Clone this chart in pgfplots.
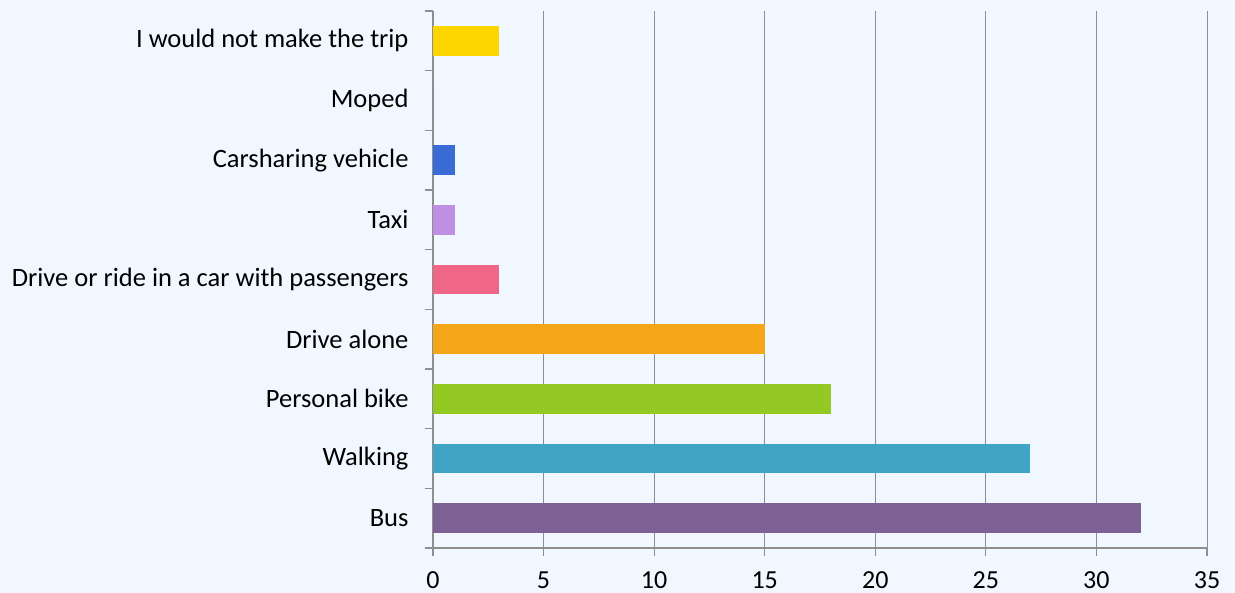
\documentclass[border=0pt]{standalone}
\usepackage{pgfplots}
\pgfplotsset{compat=1.18}
\usepackage{fontspec}
\setmainfont{Carlito}
\definecolor{bg}{HTML}{F0F7FE}
\definecolor{gridc}{HTML}{8E8E8E}
\definecolor{cyellow}{HTML}{FDD500}
\definecolor{cblue}{HTML}{3A6BD4}
\definecolor{clav}{HTML}{BE8FE2}
\definecolor{cpink}{HTML}{F06687}
\definecolor{corange}{HTML}{F5A518}
\definecolor{cgreen}{HTML}{94C823}
\definecolor{cteal}{HTML}{40A4C4}
\definecolor{cpurple}{HTML}{7D6094}
\begin{document}
\begin{tikzpicture}[x=1pt,y=1pt]
\fill[bg] (-433,-45) rectangle (802,548);
\begin{axis}[
  at={(0,0)}, anchor=south west,
  scale only axis, width=774pt, height=537pt,
  xmin=0, xmax=35, ymin=-0.5, ymax=8.5,
  axis lines=left, axis line style={-, draw=gridc, line width=1.2pt},
  xtick={0,5,...,35},
  xmajorgrids, grid style={draw=gridc, line width=0.9pt},
  tick align=outside, major tick length=8pt,
  tick style={draw=gridc, line width=1.2pt},
  ytick={-0.5,0.5,...,8.5}, yticklabels={},
  extra y ticks={0,1,2,3,4,5,6,7,8},
  extra y tick labels={Bus,Walking,Personal bike,Drive alone,Drive or ride in a car with passengers,Taxi,Carsharing vehicle,Moped,I would not make the trip},
  extra y tick style={major tick length=0pt, tick style={draw=none}},
  yticklabel style={font=\fontsize{26.5}{30}\selectfont, xshift=-21pt},
  xticklabel style={font=\fontsize{26}{30}\selectfont, yshift=-12pt},
  /pgf/number format/assume math mode=true,
  xbar, bar width=0.5, bar shift=0pt,
  clip=false,
]
\addplot[fill=cpurple, draw=none] coordinates {(32,0)};
\addplot[fill=cteal, draw=none] coordinates {(27,1)};
\addplot[fill=cgreen, draw=none] coordinates {(18,2)};
\addplot[fill=corange, draw=none] coordinates {(15,3)};
\addplot[fill=cpink, draw=none] coordinates {(3,4)};
\addplot[fill=clav, draw=none] coordinates {(1,5)};
\addplot[fill=cblue, draw=none] coordinates {(1,6)};
\addplot[fill=cpurple, draw=none] coordinates {(0,7)};
\addplot[fill=cyellow, draw=none] coordinates {(3,8)};
\end{axis}
\end{tikzpicture}
\end{document}
